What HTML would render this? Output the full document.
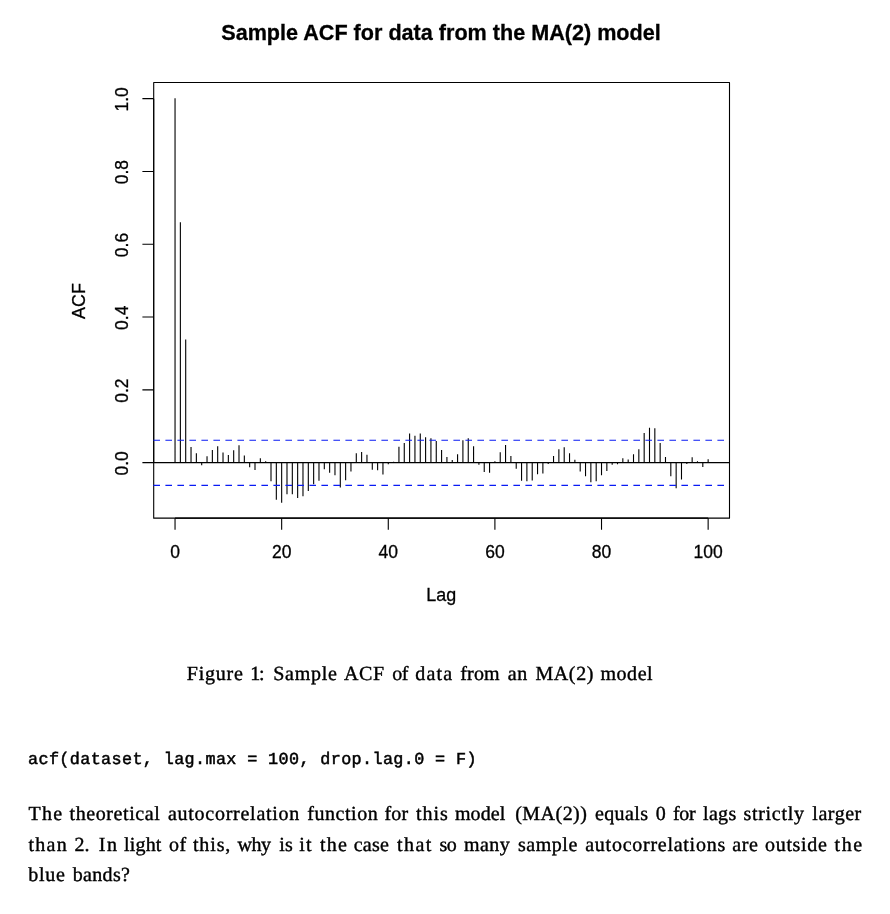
<!DOCTYPE html>
<html><head><meta charset="utf-8"><title>Sample ACF</title>
<style>
html,body{margin:0;padding:0;background:#fff;}
body{width:890px;height:914px;position:relative;overflow:hidden;}
svg{position:absolute;left:0;top:0;will-change:transform;}
.sans{font-family:"Liberation Sans",Arial,Helvetica,sans-serif;fill:#000;}
.tl{position:absolute;left:0;top:0;width:890px;height:0;white-space:nowrap;color:#000;
  font-family:"Liberation Serif","Times New Roman",serif;font-size:20.0px;line-height:24px;
  text-rendering:geometricPrecision;will-change:transform;-webkit-text-stroke:0.4px #000;}
.tl span{position:absolute;top:0;}
.code{position:absolute;left:27.6px;top:749px;letter-spacing:0.368px;white-space:pre;color:#000;
  font-family:"Liberation Mono","Courier New",monospace;font-size:16.8px;line-height:24px;will-change:transform;-webkit-text-stroke:0.5px #000;text-rendering:geometricPrecision;}
</style></head>
<body>
<svg width="890" height="640" viewBox="0 0 890 640">
<g class="sans" font-size="17.9" stroke="#000" stroke-width="0.3">
<text x="441.0" y="40.0" text-anchor="middle" font-weight="bold" font-size="21.6" id="title">Sample ACF for data from the MA(2) model</text>
<text x="175.04" y="558.2" text-anchor="middle" font-size="17.5">0</text><text x="281.66" y="558.2" text-anchor="middle" font-size="17.5">20</text><text x="388.28" y="558.2" text-anchor="middle" font-size="17.5">40</text><text x="494.90" y="558.2" text-anchor="middle" font-size="17.5">60</text><text x="601.52" y="558.2" text-anchor="middle" font-size="17.5">80</text><text x="708.14" y="558.2" text-anchor="middle" font-size="17.5">100</text>
<text transform="translate(127.7 463.40) rotate(-90)" text-anchor="middle" font-size="17.5">0.0</text><text transform="translate(127.7 390.60) rotate(-90)" text-anchor="middle" font-size="17.5">0.2</text><text transform="translate(127.7 317.80) rotate(-90)" text-anchor="middle" font-size="17.5">0.4</text><text transform="translate(127.7 245.00) rotate(-90)" text-anchor="middle" font-size="17.5">0.6</text><text transform="translate(127.7 172.20) rotate(-90)" text-anchor="middle" font-size="17.5">0.8</text><text transform="translate(127.7 99.40) rotate(-90)" text-anchor="middle" font-size="17.5">1.0</text>
<text x="441.3" y="601" text-anchor="middle">Lag</text>
<text transform="translate(85.0 301.0) rotate(-90)" text-anchor="middle">ACF</text>
</g>
<g fill="none" stroke="#000" stroke-width="1.1" stroke-linejoin="round">
<path d="M175.04 462.66V98.35M180.37 462.66V222.20M185.70 462.66V339.50M191.03 462.66V446.96M196.36 462.66V453.26M201.69 462.66V465.16M207.03 462.66V456.26M212.36 462.66V450.06M217.69 462.66V446.36M223.02 462.66V452.56M228.35 462.66V455.06M233.68 462.66V450.16M239.01 462.66V445.16M244.34 462.66V455.56M249.67 462.66V467.16M255.00 462.66V470.06M260.34 462.66V458.16M265.67 462.66V461.16M271.00 462.66V481.16M276.33 462.66V499.76M281.66 462.66V502.76M286.99 462.66V494.16M292.32 462.66V494.16M297.65 462.66V498.06M302.98 462.66V496.16M308.31 462.66V490.96M313.65 462.66V484.16M318.98 462.66V480.86M324.31 462.66V469.36M329.64 462.66V472.76M334.97 462.66V475.16M340.30 462.66V487.56M345.63 462.66V480.36M350.96 462.66V471.46M356.29 462.66V453.26M361.62 462.66V452.06M366.96 462.66V454.86M372.29 462.66V469.76M377.62 462.66V470.26M382.95 462.66V474.46M388.28 462.66V464.36M393.61 462.66V461.66M398.94 462.66V446.66M404.27 462.66V443.06M409.60 462.66V433.46M414.94 462.66V435.86M420.27 462.66V433.46M425.60 462.66V437.16M430.93 462.66V438.36M436.26 462.66V441.06M441.59 462.66V450.06M446.92 462.66V457.06M452.25 462.66V459.96M457.58 462.66V454.26M462.91 462.66V440.26M468.25 462.66V438.26M473.58 462.66V446.36M478.91 462.66V464.66M484.24 462.66V471.96M489.57 462.66V472.76M494.90 462.66V461.16M500.23 462.66V452.36M505.56 462.66V444.96M510.89 462.66V456.06M516.22 462.66V468.86M521.56 462.66V480.86M526.89 462.66V481.16M532.22 462.66V480.56M537.55 462.66V474.16M542.88 462.66V473.56M548.21 462.66V463.96M553.54 462.66V455.96M558.87 462.66V449.16M564.20 462.66V447.36M569.53 462.66V453.26M574.87 462.66V459.76M580.20 462.66V471.56M585.53 462.66V476.16M590.86 462.66V482.36M596.19 462.66V481.16M601.52 462.66V475.16M606.85 462.66V471.06M612.18 462.66V464.86M617.51 462.66V464.36M622.84 462.66V458.16M628.18 462.66V459.46M633.51 462.66V454.36M638.84 462.66V449.16M644.17 462.66V432.96M649.50 462.66V427.76M654.83 462.66V428.16M660.16 462.66V443.06M665.49 462.66V457.06M670.82 462.66V476.16M676.15 462.66V488.26M681.49 462.66V479.46M686.82 462.66V463.96M692.15 462.66V457.26M697.48 462.66V461.16M702.81 462.66V467.06M708.14 462.66V459.16"/>
<path d="M153.7 462.66H729.5"/>
<path d="M175.04 518.15v11.6M281.66 518.15v11.6M388.28 518.15v11.6M494.90 518.15v11.6M601.52 518.15v11.6M708.14 518.15v11.6"/>
<path d="M153.70 462.66h-11.3M153.70 389.86h-11.3M153.70 317.06h-11.3M153.70 244.26h-11.3M153.70 171.46h-11.3M153.70 98.66h-11.3"/>
<path d="M175.04 518.15H708.14M153.7 462.66V98.66"/>
<rect x="153.7" y="82.5" width="575.80" height="435.65"/>
</g>
<g fill="none" stroke="#0a1bf4" stroke-width="1.1" stroke-dasharray="6.6 5.4">
<path d="M153.40 440.2H729.5"/>
<path d="M153.40 485.35H729.5"/>
</g>
</svg>
<div class="tl" style="top:662.00px"><span style="left:186.75px;letter-spacing:0.767px">Figure</span> <span style="left:250.20px;letter-spacing:-1.200px">1:</span> <span style="left:273.29px;letter-spacing:0.698px">Sample</span> <span style="left:344.10px;letter-spacing:0.564px">ACF</span> <span style="left:392.21px;letter-spacing:-0.552px">of</span> <span style="left:415.19px;letter-spacing:1.219px">data</span> <span style="left:460.30px;letter-spacing:0.142px">from</span> <span style="left:507.82px;letter-spacing:0.644px">an</span> <span style="left:535.38px;letter-spacing:0.623px">MA(2)</span> <span style="left:600.41px;letter-spacing:0.571px">model</span></div>
<div class="tl" style="top:802.00px"><span style="left:28.43px;letter-spacing:1.305px">The</span> <span style="left:69.51px;letter-spacing:0.595px">theoretical</span> <span style="left:167.89px;letter-spacing:0.745px">autocorrelation</span> <span style="left:307.30px;letter-spacing:0.537px">function</span> <span style="left:384.62px;letter-spacing:0.078px">for</span> <span style="left:415.90px;letter-spacing:0.975px">this</span> <span style="left:454.97px;letter-spacing:0.069px">model</span> <span style="left:515.15px;letter-spacing:0.487px">(MA(2))</span> <span style="left:594.90px;letter-spacing:0.398px">equals</span> <span style="left:655.86px;letter-spacing:0.000px">0</span> <span style="left:672.88px;letter-spacing:-0.271px">for</span> <span style="left:702.99px;letter-spacing:0.340px">lags</span> <span style="left:743.39px;letter-spacing:0.728px">strictly</span> <span style="left:812.34px;letter-spacing:0.535px">larger</span></div>
<div class="tl" style="top:833.00px"><span style="left:28.40px;letter-spacing:1.293px">than</span> <span style="left:74.47px;letter-spacing:0.142px">2.</span> <span style="left:98.73px;letter-spacing:1.550px">In</span> <span style="left:123.99px;letter-spacing:0.192px">light</span> <span style="left:169.11px;letter-spacing:0.303px">of</span> <span style="left:192.90px;letter-spacing:0.878px">this,</span> <span style="left:237.53px;letter-spacing:-0.444px">why</span> <span style="left:279.24px;letter-spacing:0.138px">is</span> <span style="left:299.24px;letter-spacing:1.233px">it</span> <span style="left:319.90px;letter-spacing:1.244px">the</span> <span style="left:353.70px;letter-spacing:0.286px">case</span> <span style="left:396.90px;letter-spacing:1.484px">that</span> <span style="left:439.39px;letter-spacing:-0.532px">so</span> <span style="left:463.97px;letter-spacing:0.418px">many</span> <span style="left:517.94px;letter-spacing:0.545px">sample</span> <span style="left:585.25px;letter-spacing:0.739px">autocorrelations</span> <span style="left:732.25px;letter-spacing:0.668px">are</span> <span style="left:765.11px;letter-spacing:0.647px">outside</span> <span style="left:834.40px;letter-spacing:1.712px">the</span></div>
<div class="tl" style="top:863.00px"><span style="left:28.37px;letter-spacing:0.701px">blue</span> <span style="left:72.68px;letter-spacing:0.338px">bands?</span></div>
<div class="code">acf(dataset, lag.max = 100, drop.lag.0 = F)</div>
</body></html>
